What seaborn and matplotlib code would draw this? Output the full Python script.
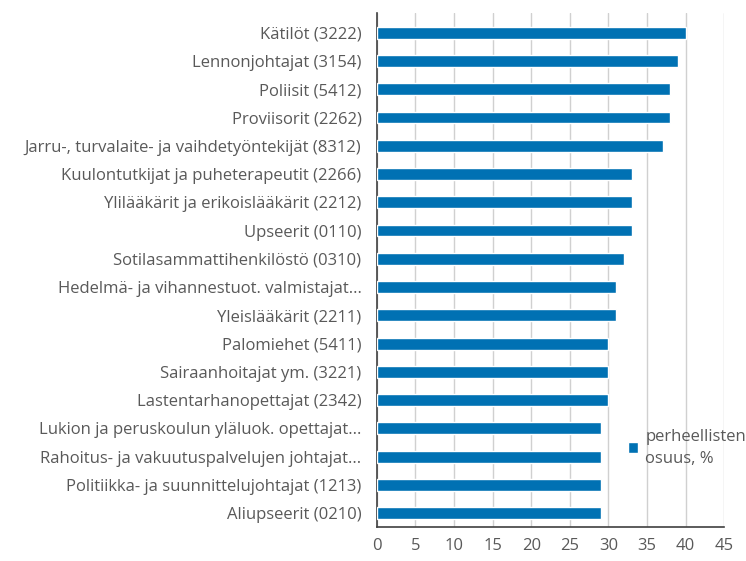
import pandas as pd
import matplotlib
matplotlib.use("Agg")
import matplotlib.pyplot as plt
import seaborn as sns

# data, top to bottom as in the chart
occupations = [
    "Kätilöt (3222)",
    "Lennonjohtajat (3154)",
    "Poliisit (5412)",
    "Proviisorit (2262)",
    "Jarru-, turvalaite- ja vaihdetyöntekijät (8312)",
    "Kuulontutkijat ja puheterapeutit (2266)",
    "Ylilääkärit ja erikoislääkärit (2212)",
    "Upseerit (0110)",
    "Sotilasammattihenkilöstö (0310)",
    "Hedelmä- ja vihannestuot. valmistajat...",
    "Yleislääkärit (2211)",
    "Palomiehet (5411)",
    "Sairaanhoitajat ym. (3221)",
    "Lastentarhanopettajat (2342)",
    "Lukion ja peruskoulun yläluok. opettajat...",
    "Rahoitus- ja vakuutuspalvelujen johtajat...",
    "Politiikka- ja suunnittelujohtajat (1213)",
    "Aliupseerit (0210)",
]
share = [40, 39, 38, 38, 37, 33, 33, 33, 32, 31, 31, 30, 30, 30, 29, 29, 29, 29]
x_ticks = [0, 5, 10, 15, 20, 25, 30, 35, 40, 45]
series_name = "perheellisten\nosuus, %"

df = pd.DataFrame({"ammatti": occupations, "osuus": share})

sns.set_style("white")
plt.rcParams["font.family"] = ["Open Sans", "DejaVu Sans"]

text_col = "#595959"
bar_col = "#0071B3"

fig = plt.figure(figsize=(7.46, 5.61), dpi=100)
ax = fig.add_axes([0.505, 0.06, 0.466, 0.917])

sns.barplot(data=df, x="osuus", y="ammatti", orient="h", color=bar_col,
            saturation=1, width=0.42, label=series_name, ax=ax, zorder=3)

ax.set_xlim(0, 45)
ax.set_xticks(x_ticks)
ax.set_ylim(len(occupations) - 0.5, -0.7)
ax.set_xlabel("")
ax.set_ylabel("")
ax.grid(axis="x", color="#D0D0D0", linewidth=1, zorder=0)
ax.grid(axis="y", visible=False)

for side in ["top", "right"]:
    ax.spines[side].set_visible(False)
ax.spines["left"].set_color("#404040")
ax.spines["bottom"].set_color("#404040")
ax.spines["left"].set_linewidth(1.2)
ax.spines["bottom"].set_linewidth(1.2)

ax.tick_params(axis="y", length=0, pad=11, labelsize=12, labelcolor=text_col)
ax.tick_params(axis="x", length=0, pad=8, labelsize=12, labelcolor=text_col)

leg = ax.legend(loc="upper left", bbox_to_anchor=(0.705, 0.205), frameon=False,
                handlelength=0.6, handleheight=0.6, handletextpad=0.4,
                fontsize=12, labelcolor=text_col, borderaxespad=0)
leg.get_texts()[0].set_linespacing(1.5)

fig.savefig("out.png", dpi=100)
